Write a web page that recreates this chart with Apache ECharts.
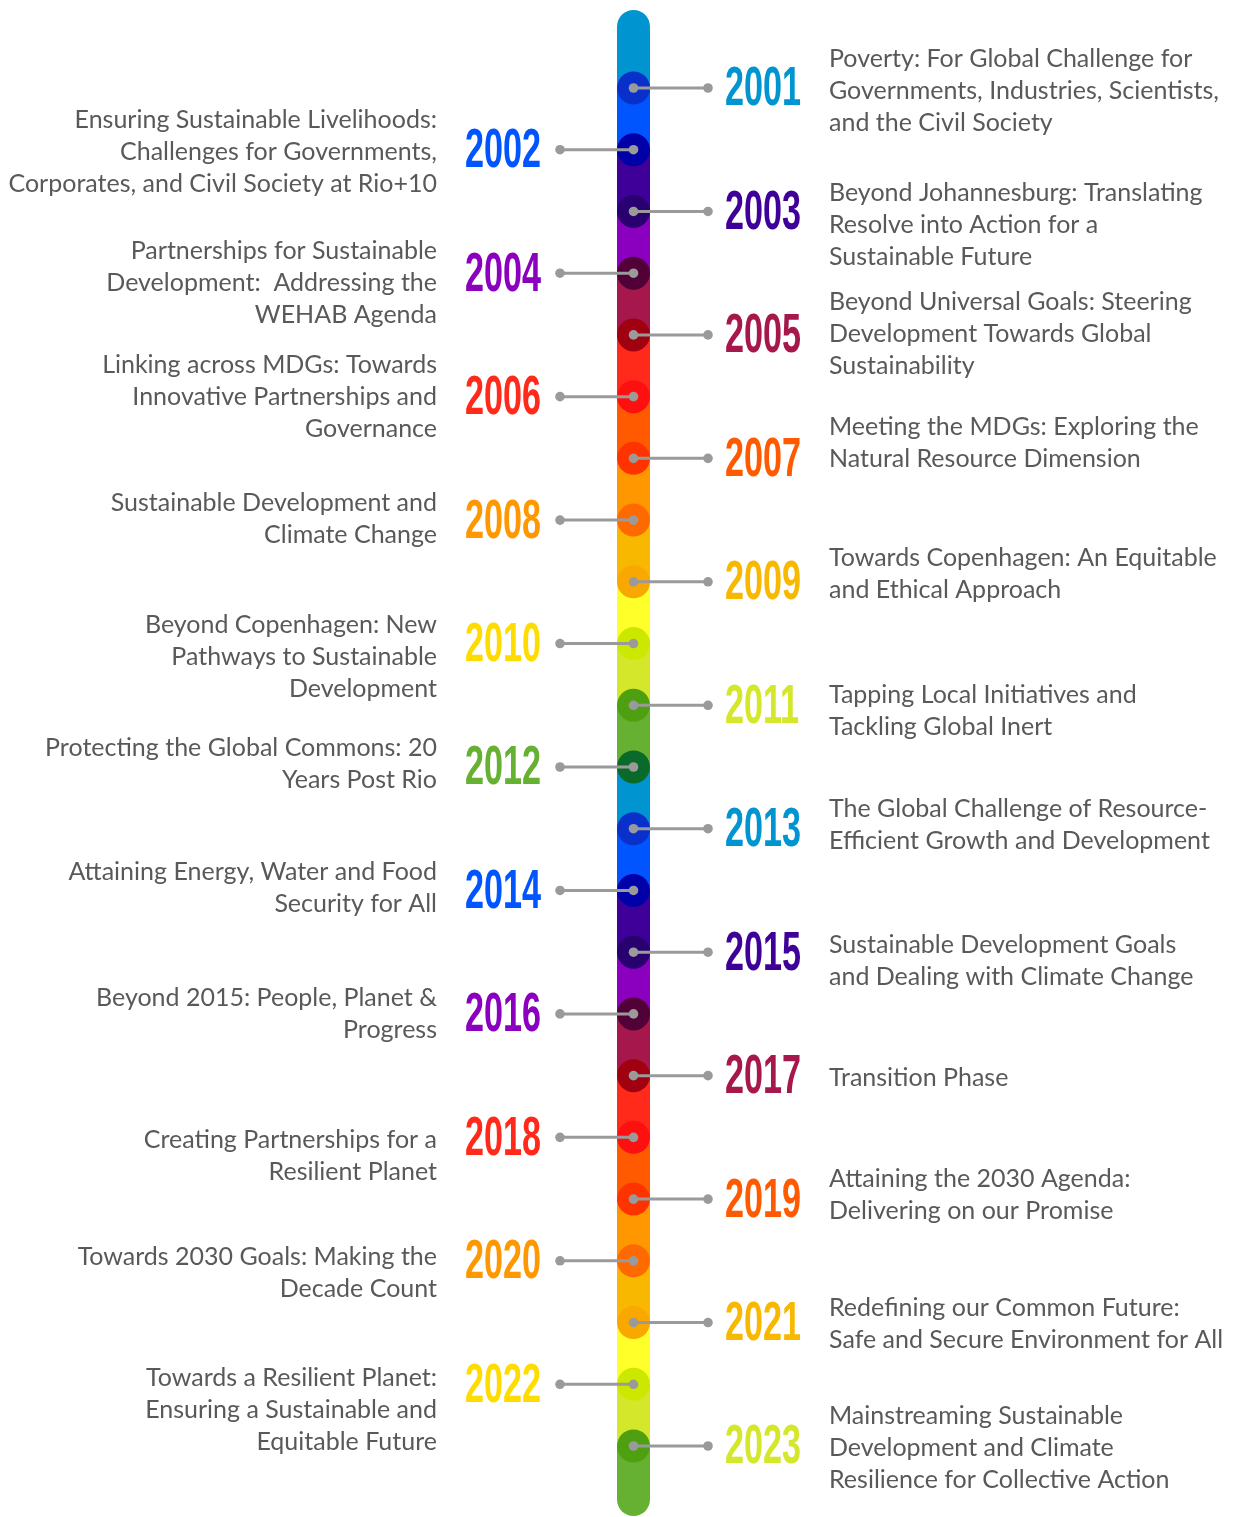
<!DOCTYPE html>
<html>
<head>
<meta charset="utf-8">
<script src="https://cdn.jsdelivr.net/npm/echarts@6/dist/echarts.min.js"></script>
<style>
  html, body { margin: 0; padding: 0; background: #ffffff; }
  #chart { width: 1233px; height: 1517px; }
</style>
</head>
<body>
<div id="chart"></div>
<script>
// ---------- DATA ----------
const years = [2001, 2002, 2003, 2004, 2005, 2006, 2007, 2008, 2009, 2010, 2011, 2012,
               2013, 2014, 2015, 2016, 2017, 2018, 2019, 2020, 2021, 2022, 2023];
const yearLabels = years.map(String);
const titles = [
  "Poverty: For Global Challenge for\nGovernments, Industries, Scientists,\nand the Civil Society",
  "Ensuring Sustainable Livelihoods:\nChallenges for Governments,\nCorporates, and Civil Society at Rio+10",
  "Beyond Johannesburg: Translating\nResolve into Action for a\nSustainable Future",
  "Partnerships for Sustainable\nDevelopment:  Addressing the\nWEHAB Agenda",
  "Beyond Universal Goals: Steering\nDevelopment Towards Global\nSustainability",
  "Linking across MDGs: Towards\nInnovative Partnerships and\nGovernance",
  "Meeting the MDGs: Exploring the\nNatural Resource Dimension",
  "Sustainable Development and\nClimate Change",
  "Towards Copenhagen: An Equitable\nand Ethical Approach",
  "Beyond Copenhagen: New\nPathways to Sustainable\nDevelopment",
  "Tapping Local Initiatives and\nTackling Global Inert",
  "Protecting the Global Commons: 20\nYears Post Rio",
  "The Global Challenge of Resource-\nEfficient Growth and Development",
  "Attaining Energy, Water and Food\nSecurity for All",
  "Sustainable Development Goals\nand Dealing with Climate Change",
  "Beyond 2015: People, Planet &\nProgress",
  "Transition Phase",
  "Creating Partnerships for a\nResilient Planet",
  "Attaining the 2030 Agenda:\nDelivering on our Promise",
  "Towards 2030 Goals: Making the\nDecade Count",
  "Redefining our Common Future:\nSafe and Secure Environment for All",
  "Towards a Resilient Planet:\nEnsuring a Sustainable and\nEquitable Future",
  "Mainstreaming Sustainable\nDevelopment and Climate\nResilience for Collective Action"
];
// side: 'R' for right, 'L' for left
const sides = ['R','L','R','L','R','L','R','L','R','L','R','L',
               'R','L','R','L','R','L','R','L','R','L','R'];

// ---------- STYLE ----------
const segColors = ['#0095d0','#0055ff','#3f0099','#8a00be','#a6174b','#ff2a1a',
                   '#ff5a00','#ff9800','#f8b800','#ffff2a','#d4e72a','#66b032'];
const labelColors = ['#0095d0','#0055ff','#3f0099','#8a00be','#a6174b','#ff2a1a',
                     '#ff5a00','#ff9800','#f8b800','#ffdc00','#d4e72a','#66b032'];
const dotColors = ['#0a30cc','#0000a8','#280070','#520038','#a00010','#ff1010',
                   '#ff3300','#ff6a00','#f8a800','#cde800','#4ea010','#0a6a2a'];
const LAYOUT = {
  barX: 633.5, barW: 33, dotR: 16.5,
  topExtra: 78, bottomExtra: 70,
  rightEnd: 708, leftEnd: 560,
  rightYearX: 725, leftYearX: 541,
  rightDescX: 829, leftDescX: 437,
  yearFontSize: 56, yearScaleX: 0.61,
  descFont: '25px Lato, "Open Sans", sans-serif', descLineH: 32,
  // small vertical nudges of description blocks (px)
  descNudge: {2001:3,2002:2,2003:13,2004:10,2005:-1,2006:0,2007:-15,2008:-1,2009:-8,2010:13,
              2011:6,2012:-3,2013:-4,2014:-3,2015:9,2016:0,2017:2,2018:19,2019:-4,2020:12,
              2021:1,2022:26,2023:2}
};

const chart = echarts.init(document.getElementById('chart'), null, {renderer: 'canvas'});

const seriesData = years.map((y, i) => [LAYOUT.barX, y, i]);

function renderSegments(params, api) {
  const i = api.value(2);
  const y = api.coord([LAYOUT.barX, api.value(1)])[1];
  const x0 = LAYOUT.barX - LAYOUT.barW / 2;
  const children = [];
  let prevY;
  if (i === 0) {
    prevY = y - LAYOUT.topExtra;
    children.push({type: 'rect', shape: {x: x0, y: prevY, width: LAYOUT.barW, height: y - prevY + 0.5,
      r: [LAYOUT.barW/2, LAYOUT.barW/2, 0, 0]}, style: {fill: segColors[i % 12]}});
  } else {
    prevY = api.coord([LAYOUT.barX, years[i - 1]])[1];
    children.push({type: 'rect', shape: {x: x0, y: prevY, width: LAYOUT.barW, height: y - prevY + 0.5},
      style: {fill: segColors[i % 12]}});
  }
  if (i === years.length - 1) {
    children.push({type: 'rect', shape: {x: x0, y: y, width: LAYOUT.barW, height: LAYOUT.bottomExtra,
      r: [0, 0, LAYOUT.barW/2, LAYOUT.barW/2]}, style: {fill: segColors[(i + 1) % 12]}});
  }
  return {type: 'group', children};
}

function renderItems(params, api) {
  const i = api.value(2);
  const pt = api.coord([LAYOUT.barX, api.value(1)]);
  const cx = pt[0], cy = pt[1];
  const right = sides[i] === 'R';
  const endX = right ? LAYOUT.rightEnd : LAYOUT.leftEnd;
  const descY = cy + (LAYOUT.descNudge[years[i]] || 0);
  return {
    type: 'group',
    children: [
      {type: 'circle', shape: {cx, cy, r: LAYOUT.dotR}, style: {fill: dotColors[i % 12]}},
      {type: 'line', shape: {x1: cx, y1: cy, x2: endX, y2: cy}, style: {stroke: '#9a9a9a', lineWidth: 3}},
      {type: 'circle', shape: {cx, cy, r: 4.8}, style: {fill: '#9a9a9a'}},
      {type: 'circle', shape: {cx: endX, cy, r: 4.8}, style: {fill: '#9a9a9a'}},
      {type: 'text', x: right ? LAYOUT.rightYearX : LAYOUT.leftYearX, y: cy + 2,
        scaleX: LAYOUT.yearScaleX,
        style: {text: yearLabels[i], x: 0, y: 0,
          font: 'bold ' + LAYOUT.yearFontSize + 'px "Liberation Sans", Arial, sans-serif',
          fill: labelColors[i % 12], align: right ? 'left' : 'right', verticalAlign: 'middle'}},
      {type: 'text', x: right ? LAYOUT.rightDescX : LAYOUT.leftDescX, y: descY,
        style: {text: titles[i], x: 0, y: 0, font: LAYOUT.descFont, lineHeight: LAYOUT.descLineH,
          fill: '#58595b', align: right ? 'left' : 'right', verticalAlign: 'middle'}}
    ]
  };
}

chart.setOption({
  animation: false,
  backgroundColor: '#ffffff',
  grid: {left: 0, right: 0, top: 88, bottom: 71},
  xAxis: {type: 'value', min: 0, max: 1233, show: false},
  yAxis: {type: 'value', min: 2001, max: 2023, inverse: true, show: false},
  series: [
    {type: 'custom', clip: false, renderItem: renderSegments, data: seriesData, z: 1, silent: true},
    {type: 'custom', clip: false, renderItem: renderItems, data: seriesData, z: 2, silent: true}
  ]
});
</script>
</body>
</html>
